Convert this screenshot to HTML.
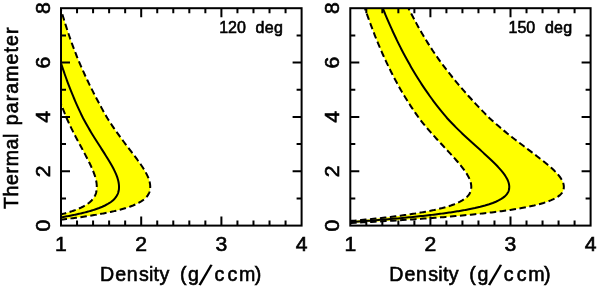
<!DOCTYPE html>
<html><head><meta charset="utf-8"><title>Thermal parameter vs Density</title>
<style>
html,body{margin:0;padding:0;background:#fff;}
svg{display:block}
text{font-family:"Liberation Sans",sans-serif;fill:#000;}
.t{font-size:19.6px;stroke:#000;stroke-width:0.6px;}
.s{font-size:16px;stroke:#000;stroke-width:0.6px;}
</style></head><body>
<svg width="600" height="288" viewBox="0 0 600 288">
<rect width="600" height="288" fill="#fff"/>
<clipPath id="c1"><rect x="61.0" y="8.2" width="240.60000000000002" height="217.4"/></clipPath>
<g clip-path="url(#c1)">
<path d="M-19.20,225.60 L-11.41,225.39 L-6.55,225.19 L-2.39,224.98 L1.35,224.77 L4.82,224.57 L8.08,224.36 L11.17,224.16 L14.13,223.95 L16.98,223.74 L19.73,223.54 L22.39,223.33 L24.97,223.12 L27.48,222.92 L29.92,222.71 L32.30,222.50 L34.63,222.30 L36.91,222.09 L39.14,221.88 L41.32,221.68 L43.46,221.47 L45.56,221.27 L47.61,221.06 L49.63,220.85 L51.61,220.65 L53.56,220.44 L55.47,220.23 L57.35,220.03 L59.19,219.82 L61.01,219.61 L62.79,219.41 L64.54,219.20 L66.27,219.00 L67.96,218.79 L69.63,218.58 L71.27,218.38 L72.88,218.17 L74.47,217.96 L76.03,217.76 L77.56,217.55 L79.07,217.34 L80.56,217.14 L82.02,216.93 L83.46,216.73 L84.87,216.52 L86.26,216.31 L87.63,216.11 L88.97,215.90 L90.29,215.69 L91.59,215.49 L92.87,215.28 L94.12,215.07 L95.36,214.87 L96.57,214.66 L97.77,214.45 L98.94,214.25 L100.09,214.04 L101.22,213.84 L102.34,213.63 L103.43,213.42 L104.50,213.22 L105.56,213.01 L106.60,212.80 L107.61,212.60 L108.61,212.39 L109.60,212.18 L110.56,211.98 L111.51,211.77 L112.44,211.57 L113.35,211.36 L114.24,211.15 L115.12,210.95 L115.98,210.74 L116.83,210.53 L117.66,210.33 L118.48,210.12 L119.27,209.91 L120.06,209.71 L120.83,209.50 L121.58,209.29 L125.89,208.03 L129.69,206.77 L133.04,205.50 L135.96,204.24 L138.52,202.97 L140.73,201.71 L142.63,200.44 L144.27,199.18 L145.65,197.91 L146.81,196.65 L147.77,195.38 L148.54,194.12 L149.15,192.85 L149.61,191.59 L149.93,190.32 L150.13,189.06 L150.20,187.79 L150.22,186.53 L150.16,185.26 L150.02,184.00 L149.80,182.74 L149.51,181.47 L149.15,180.21 L148.73,178.94 L148.25,177.68 L147.72,176.41 L147.13,175.15 L146.50,173.88 L145.83,172.62 L145.12,171.35 L144.37,170.09 L143.60,168.82 L142.80,167.56 L141.97,166.29 L141.12,165.03 L140.25,163.76 L139.36,162.50 L138.45,161.23 L137.54,159.97 L136.61,158.71 L135.67,157.44 L134.73,156.18 L133.77,154.91 L132.82,153.65 L131.85,152.38 L130.89,151.12 L129.92,149.85 L128.95,148.59 L127.99,147.32 L127.02,146.06 L126.06,144.79 L125.09,143.53 L124.14,142.26 L123.19,141.00 L122.24,139.73 L121.30,138.47 L120.36,137.20 L119.44,135.94 L118.52,134.67 L117.61,133.41 L116.70,132.15 L115.81,130.88 L114.93,129.62 L114.05,128.35 L113.19,127.09 L112.33,125.82 L111.49,124.56 L110.65,123.29 L109.83,122.03 L109.01,120.76 L108.21,119.50 L107.42,118.23 L106.68,116.97 L105.95,115.70 L105.22,114.44 L104.50,113.17 L103.79,111.91 L103.08,110.64 L102.38,109.38 L101.68,108.12 L100.99,106.85 L100.30,105.59 L99.61,104.32 L98.93,103.06 L98.26,101.79 L97.59,100.53 L96.92,99.26 L96.26,98.00 L95.60,96.73 L94.94,95.47 L94.29,94.20 L93.64,92.94 L93.00,91.67 L92.36,90.41 L91.72,89.14 L91.09,87.88 L90.46,86.61 L89.84,85.35 L89.22,84.08 L88.61,82.82 L88.00,81.56 L87.39,80.29 L86.79,79.03 L86.20,77.76 L85.61,76.50 L85.02,75.23 L84.44,73.97 L83.87,72.70 L83.29,71.44 L82.73,70.17 L82.16,68.91 L81.61,67.64 L81.05,66.38 L80.50,65.11 L79.96,63.85 L79.42,62.58 L78.89,61.32 L78.36,60.05 L77.84,58.79 L77.32,57.53 L76.81,56.26 L76.30,55.00 L75.80,53.73 L75.30,52.47 L74.81,51.20 L74.32,49.94 L73.84,48.67 L73.37,47.41 L72.90,46.14 L72.43,44.88 L71.97,43.61 L71.51,42.35 L71.06,41.08 L70.61,39.82 L70.17,38.55 L69.73,37.29 L69.29,36.02 L68.86,34.76 L68.43,33.49 L68.01,32.23 L67.59,30.97 L67.17,29.70 L66.76,28.44 L66.35,27.17 L65.95,25.91 L65.54,24.64 L65.15,23.38 L64.75,22.11 L64.36,20.85 L63.97,19.58 L63.58,18.32 L63.19,17.05 L62.81,15.79 L62.43,14.52 L62.05,13.26 L61.68,11.99 L61.31,10.73 L60.94,9.46 L60.57,8.20 L35.41,8.20 L35.66,9.46 L35.91,10.73 L36.17,11.99 L36.42,13.26 L36.68,14.52 L36.94,15.79 L37.20,17.05 L37.46,18.32 L37.72,19.58 L37.99,20.85 L38.25,22.11 L38.52,23.38 L38.79,24.64 L39.07,25.91 L39.34,27.17 L39.62,28.44 L39.89,29.70 L40.17,30.97 L40.46,32.23 L40.74,33.49 L41.03,34.76 L41.31,36.02 L41.60,37.29 L41.90,38.55 L42.19,39.82 L42.49,41.08 L42.79,42.35 L43.09,43.61 L43.40,44.88 L43.70,46.14 L44.01,47.41 L44.33,48.67 L44.64,49.94 L44.96,51.20 L45.28,52.47 L45.60,53.73 L45.93,55.00 L46.26,56.26 L46.59,57.53 L46.92,58.79 L47.26,60.05 L47.60,61.32 L47.94,62.58 L48.29,63.85 L48.64,65.11 L48.99,66.38 L49.34,67.64 L49.70,68.91 L50.06,70.17 L50.43,71.44 L50.79,72.70 L51.16,73.97 L51.54,75.23 L51.91,76.50 L52.29,77.76 L52.68,79.03 L53.06,80.29 L53.46,81.56 L53.85,82.82 L54.25,84.08 L54.65,85.35 L55.06,86.61 L55.47,87.88 L55.89,89.14 L56.31,90.41 L56.73,91.67 L57.16,92.94 L57.59,94.20 L58.03,95.47 L58.47,96.73 L58.92,98.00 L59.37,99.26 L59.82,100.53 L60.28,101.79 L60.74,103.06 L61.21,104.32 L61.68,105.59 L62.16,106.85 L62.64,108.12 L63.13,109.38 L63.62,110.64 L64.12,111.91 L64.62,113.17 L65.13,114.44 L65.65,115.70 L66.16,116.97 L66.69,118.23 L67.25,119.50 L67.82,120.76 L68.40,122.03 L68.99,123.29 L69.59,124.56 L70.19,125.82 L70.80,127.09 L71.41,128.35 L72.04,129.62 L72.67,130.88 L73.30,132.15 L73.94,133.41 L74.59,134.67 L75.25,135.94 L75.90,137.20 L76.57,138.47 L77.23,139.73 L77.91,141.00 L78.58,142.26 L79.26,143.53 L79.93,144.79 L80.61,146.06 L81.30,147.32 L81.98,148.59 L82.66,149.85 L83.34,151.12 L84.01,152.38 L84.69,153.65 L85.36,154.91 L86.02,156.18 L86.68,157.44 L87.34,158.71 L87.99,159.97 L88.62,161.23 L89.25,162.50 L89.87,163.76 L90.47,165.03 L91.07,166.29 L91.64,167.56 L92.20,168.82 L92.73,170.09 L93.25,171.35 L93.74,172.62 L94.21,173.88 L94.64,175.15 L95.05,176.41 L95.42,177.68 L95.75,178.94 L96.04,180.21 L96.29,181.47 L96.49,182.74 L96.64,184.00 L96.74,185.26 L96.78,186.53 L96.77,187.79 L96.72,189.06 L96.59,190.32 L96.37,191.59 L96.06,192.85 L95.64,194.12 L95.11,195.38 L94.45,196.65 L93.66,197.91 L92.72,199.18 L91.60,200.44 L90.29,201.71 L88.78,202.97 L87.03,204.24 L85.03,205.50 L82.74,206.77 L80.13,208.03 L77.19,209.29 L76.67,209.50 L76.14,209.71 L75.61,209.91 L75.06,210.12 L74.50,210.33 L73.93,210.53 L73.35,210.74 L72.76,210.95 L72.16,211.15 L71.55,211.36 L70.92,211.57 L70.29,211.77 L69.64,211.98 L68.98,212.18 L68.31,212.39 L67.62,212.60 L66.93,212.80 L66.22,213.01 L65.49,213.22 L64.76,213.42 L64.01,213.63 L63.25,213.84 L62.47,214.04 L61.68,214.25 L60.88,214.45 L60.06,214.66 L59.23,214.87 L58.39,215.07 L57.53,215.28 L56.65,215.49 L55.76,215.69 L54.86,215.90 L53.94,216.11 L53.00,216.31 L52.05,216.52 L51.08,216.73 L50.10,216.93 L49.10,217.14 L48.08,217.34 L47.05,217.55 L46.00,217.76 L44.93,217.96 L43.85,218.17 L42.74,218.38 L41.62,218.58 L40.48,218.79 L39.32,219.00 L38.14,219.20 L36.93,219.41 L35.71,219.61 L34.47,219.82 L33.21,220.03 L31.92,220.23 L30.61,220.44 L29.28,220.65 L27.93,220.85 L26.54,221.06 L25.14,221.27 L23.70,221.47 L22.24,221.68 L20.74,221.88 L19.22,222.09 L17.66,222.30 L16.06,222.50 L14.43,222.71 L12.76,222.92 L11.04,223.12 L9.27,223.33 L7.45,223.54 L5.57,223.74 L3.62,223.95 L1.60,224.16 L-0.52,224.36 L-2.76,224.57 L-5.13,224.77 L-7.69,224.98 L-10.54,225.19 L-13.87,225.39 L-19.20,225.60Z" fill="#ffff00" stroke="none"/>
<path d="M-19.20,225.60 L-12.84,225.39 L-8.88,225.19 L-5.49,224.98 L-2.43,224.77 L0.39,224.57 L3.05,224.36 L5.58,224.16 L7.99,223.95 L10.32,223.74 L12.56,223.54 L14.73,223.33 L16.83,223.12 L18.88,222.92 L20.87,222.71 L22.82,222.50 L24.72,222.30 L26.58,222.09 L28.39,221.88 L30.17,221.68 L31.92,221.47 L33.63,221.27 L35.31,221.06 L36.95,220.85 L38.57,220.65 L40.16,220.44 L41.72,220.23 L43.25,220.03 L44.75,219.82 L46.23,219.61 L47.69,219.41 L49.12,219.20 L50.53,219.00 L51.91,218.79 L53.27,218.58 L54.61,218.38 L55.92,218.17 L57.22,217.96 L58.49,217.76 L59.74,217.55 L60.97,217.34 L62.19,217.14 L63.38,216.93 L64.55,216.73 L65.70,216.52 L66.83,216.31 L67.95,216.11 L69.05,215.90 L70.12,215.69 L71.18,215.49 L72.23,215.28 L73.25,215.07 L74.26,214.87 L75.25,214.66 L76.22,214.45 L77.18,214.25 L78.12,214.04 L79.04,213.84 L79.95,213.63 L80.84,213.42 L81.72,213.22 L82.58,213.01 L83.43,212.80 L84.26,212.60 L85.07,212.39 L85.87,212.18 L86.66,211.98 L87.43,211.77 L88.19,211.57 L88.93,211.36 L89.66,211.15 L90.38,210.95 L91.08,210.74 L91.77,210.53 L92.45,210.33 L93.12,210.12 L93.77,209.91 L94.41,209.71 L95.04,209.50 L95.65,209.29 L99.16,208.03 L102.27,206.77 L104.99,205.50 L107.38,204.24 L109.47,202.97 L111.27,201.71 L112.82,200.44 L114.15,199.18 L115.28,197.91 L116.23,196.65 L117.01,195.38 L117.64,194.12 L118.14,192.85 L118.51,191.59 L118.77,190.32 L118.93,189.06 L118.99,187.79 L119.00,186.53 L118.95,185.26 L118.83,184.00 L118.65,182.74 L118.41,181.47 L118.12,180.21 L117.77,178.94 L117.37,177.68 L116.93,176.41 L116.45,175.15 L115.93,173.88 L115.38,172.62 L114.79,171.35 L114.18,170.09 L113.54,168.82 L112.87,167.56 L112.19,166.29 L111.48,165.03 L110.76,163.76 L110.03,162.50 L109.28,161.23 L108.52,159.97 L107.75,158.71 L106.97,157.44 L106.18,156.18 L105.39,154.91 L104.59,153.65 L103.78,152.38 L102.98,151.12 L102.17,149.85 L101.36,148.59 L100.55,147.32 L99.74,146.06 L98.93,144.79 L98.12,143.53 L97.31,142.26 L96.51,141.00 L95.71,139.73 L94.91,138.47 L94.12,137.20 L93.34,135.94 L92.56,134.67 L91.79,133.41 L91.02,132.15 L90.26,130.88 L89.51,129.62 L88.77,128.35 L88.04,127.09 L87.31,125.82 L86.59,124.56 L85.89,123.29 L85.19,122.03 L84.50,120.76 L83.81,119.50 L83.14,118.23 L82.52,116.97 L81.90,115.70 L81.29,114.44 L80.68,113.17 L80.08,111.91 L79.49,110.64 L78.90,109.38 L78.32,108.12 L77.75,106.85 L77.18,105.59 L76.61,104.32 L76.06,103.06 L75.51,101.79 L74.96,100.53 L74.42,99.26 L73.88,98.00 L73.35,96.73 L72.83,95.47 L72.30,94.20 L71.79,92.94 L71.28,91.67 L70.77,90.41 L70.27,89.14 L69.78,87.88 L69.29,86.61 L68.80,85.35 L68.32,84.08 L67.84,82.82 L67.37,81.56 L66.91,80.29 L66.45,79.03 L65.99,77.76 L65.54,76.50 L65.09,75.23 L64.64,73.97 L64.20,72.70 L63.77,71.44 L63.33,70.17 L62.90,68.91 L62.48,67.64 L62.05,66.38 L61.63,65.11 L61.22,63.85 L60.80,62.58 L60.40,61.32 L59.99,60.05 L59.59,58.79 L59.19,57.53 L58.80,56.26 L58.40,55.00 L58.02,53.73 L57.63,52.47 L57.25,51.20 L56.87,49.94 L56.49,48.67 L56.12,47.41 L55.75,46.14 L55.39,44.88 L55.02,43.61 L54.66,42.35 L54.31,41.08 L53.95,39.82 L53.60,38.55 L53.25,37.29 L52.91,36.02 L52.56,34.76 L52.22,33.49 L51.88,32.23 L51.55,30.97 L51.21,29.70 L50.88,28.44 L50.55,27.17 L50.23,25.91 L49.90,24.64 L49.58,23.38 L49.26,22.11 L48.94,20.85 L48.63,19.58 L48.31,18.32 L48.00,17.05 L47.69,15.79 L47.38,14.52 L47.08,13.26 L46.77,11.99 L46.47,10.73 L46.17,9.46 L45.87,8.20" fill="none" stroke="#000" stroke-width="2"/>
<path d="M-19.20,225.60 L-13.87,225.39 L-10.54,225.19 L-7.69,224.98 L-5.13,224.77 L-2.76,224.57 L-0.52,224.36 L1.60,224.16 L3.62,223.95 L5.57,223.74 L7.45,223.54 L9.27,223.33 L11.04,223.12 L12.76,222.92 L14.43,222.71 L16.06,222.50 L17.66,222.30 L19.22,222.09 L20.74,221.88 L22.24,221.68 L23.70,221.47 L25.14,221.27 L26.54,221.06 L27.93,220.85 L29.28,220.65 L30.61,220.44 L31.92,220.23 L33.21,220.03 L34.47,219.82 L35.71,219.61 L36.93,219.41 L38.14,219.20 L39.32,219.00 L40.48,218.79 L41.62,218.58 L42.74,218.38 L43.85,218.17 L44.93,217.96 L46.00,217.76 L47.05,217.55 L48.08,217.34 L49.10,217.14 L50.10,216.93 L51.08,216.73 L52.05,216.52 L53.00,216.31 L53.94,216.11 L54.86,215.90 L55.76,215.69 L56.65,215.49 L57.53,215.28 L58.39,215.07 L59.23,214.87 L60.06,214.66 L60.88,214.45 L61.68,214.25 L62.47,214.04 L63.25,213.84 L64.01,213.63 L64.76,213.42 L65.49,213.22 L66.22,213.01 L66.93,212.80 L67.62,212.60 L68.31,212.39 L68.98,212.18 L69.64,211.98 L70.29,211.77 L70.92,211.57 L71.55,211.36 L72.16,211.15 L72.76,210.95 L73.35,210.74 L73.93,210.53 L74.50,210.33 L75.06,210.12 L75.61,209.91 L76.14,209.71 L76.67,209.50 L77.19,209.29 L80.13,208.03 L82.74,206.77 L85.03,205.50 L87.03,204.24 L88.78,202.97 L90.29,201.71 L91.60,200.44 L92.72,199.18 L93.66,197.91 L94.45,196.65 L95.11,195.38 L95.64,194.12 L96.06,192.85 L96.37,191.59 L96.59,190.32 L96.72,189.06 L96.77,187.79 L96.78,186.53 L96.74,185.26 L96.64,184.00 L96.49,182.74 L96.29,181.47 L96.04,180.21 L95.75,178.94 L95.42,177.68 L95.05,176.41 L94.64,175.15 L94.21,173.88 L93.74,172.62 L93.25,171.35 L92.73,170.09 L92.20,168.82 L91.64,167.56 L91.07,166.29 L90.47,165.03 L89.87,163.76 L89.25,162.50 L88.62,161.23 L87.99,159.97 L87.34,158.71 L86.68,157.44 L86.02,156.18 L85.36,154.91 L84.69,153.65 L84.01,152.38 L83.34,151.12 L82.66,149.85 L81.98,148.59 L81.30,147.32 L80.61,146.06 L79.93,144.79 L79.26,143.53 L78.58,142.26 L77.91,141.00 L77.23,139.73 L76.57,138.47 L75.90,137.20 L75.25,135.94 L74.59,134.67 L73.94,133.41 L73.30,132.15 L72.67,130.88 L72.04,129.62 L71.41,128.35 L70.80,127.09 L70.19,125.82 L69.59,124.56 L68.99,123.29 L68.40,122.03 L67.82,120.76 L67.25,119.50 L66.69,118.23 L66.16,116.97 L65.65,115.70 L65.13,114.44 L64.62,113.17 L64.12,111.91 L63.62,110.64 L63.13,109.38 L62.64,108.12 L62.16,106.85 L61.68,105.59 L61.21,104.32 L60.74,103.06 L60.28,101.79 L59.82,100.53 L59.37,99.26 L58.92,98.00 L58.47,96.73 L58.03,95.47 L57.59,94.20 L57.16,92.94 L56.73,91.67 L56.31,90.41 L55.89,89.14 L55.47,87.88 L55.06,86.61 L54.65,85.35 L54.25,84.08 L53.85,82.82 L53.46,81.56 L53.06,80.29 L52.68,79.03 L52.29,77.76 L51.91,76.50 L51.54,75.23 L51.16,73.97 L50.79,72.70 L50.43,71.44 L50.06,70.17 L49.70,68.91 L49.34,67.64 L48.99,66.38 L48.64,65.11 L48.29,63.85 L47.94,62.58 L47.60,61.32 L47.26,60.05 L46.92,58.79 L46.59,57.53 L46.26,56.26 L45.93,55.00 L45.60,53.73 L45.28,52.47 L44.96,51.20 L44.64,49.94 L44.33,48.67 L44.01,47.41 L43.70,46.14 L43.40,44.88 L43.09,43.61 L42.79,42.35 L42.49,41.08 L42.19,39.82 L41.90,38.55 L41.60,37.29 L41.31,36.02 L41.03,34.76 L40.74,33.49 L40.46,32.23 L40.17,30.97 L39.89,29.70 L39.62,28.44 L39.34,27.17 L39.07,25.91 L38.79,24.64 L38.52,23.38 L38.25,22.11 L37.99,20.85 L37.72,19.58 L37.46,18.32 L37.20,17.05 L36.94,15.79 L36.68,14.52 L36.42,13.26 L36.17,11.99 L35.91,10.73 L35.66,9.46 L35.41,8.20" fill="none" stroke="#000" stroke-width="2" stroke-dasharray="6.5 3.5"/>
<path d="M-19.20,225.60 L-11.41,225.39 L-6.55,225.19 L-2.39,224.98 L1.35,224.77 L4.82,224.57 L8.08,224.36 L11.17,224.16 L14.13,223.95 L16.98,223.74 L19.73,223.54 L22.39,223.33 L24.97,223.12 L27.48,222.92 L29.92,222.71 L32.30,222.50 L34.63,222.30 L36.91,222.09 L39.14,221.88 L41.32,221.68 L43.46,221.47 L45.56,221.27 L47.61,221.06 L49.63,220.85 L51.61,220.65 L53.56,220.44 L55.47,220.23 L57.35,220.03 L59.19,219.82 L61.01,219.61 L62.79,219.41 L64.54,219.20 L66.27,219.00 L67.96,218.79 L69.63,218.58 L71.27,218.38 L72.88,218.17 L74.47,217.96 L76.03,217.76 L77.56,217.55 L79.07,217.34 L80.56,217.14 L82.02,216.93 L83.46,216.73 L84.87,216.52 L86.26,216.31 L87.63,216.11 L88.97,215.90 L90.29,215.69 L91.59,215.49 L92.87,215.28 L94.12,215.07 L95.36,214.87 L96.57,214.66 L97.77,214.45 L98.94,214.25 L100.09,214.04 L101.22,213.84 L102.34,213.63 L103.43,213.42 L104.50,213.22 L105.56,213.01 L106.60,212.80 L107.61,212.60 L108.61,212.39 L109.60,212.18 L110.56,211.98 L111.51,211.77 L112.44,211.57 L113.35,211.36 L114.24,211.15 L115.12,210.95 L115.98,210.74 L116.83,210.53 L117.66,210.33 L118.48,210.12 L119.27,209.91 L120.06,209.71 L120.83,209.50 L121.58,209.29 L125.89,208.03 L129.69,206.77 L133.04,205.50 L135.96,204.24 L138.52,202.97 L140.73,201.71 L142.63,200.44 L144.27,199.18 L145.65,197.91 L146.81,196.65 L147.77,195.38 L148.54,194.12 L149.15,192.85 L149.61,191.59 L149.93,190.32 L150.13,189.06 L150.20,187.79 L150.22,186.53 L150.16,185.26 L150.02,184.00 L149.80,182.74 L149.51,181.47 L149.15,180.21 L148.73,178.94 L148.25,177.68 L147.72,176.41 L147.13,175.15 L146.50,173.88 L145.83,172.62 L145.12,171.35 L144.37,170.09 L143.60,168.82 L142.80,167.56 L141.97,166.29 L141.12,165.03 L140.25,163.76 L139.36,162.50 L138.45,161.23 L137.54,159.97 L136.61,158.71 L135.67,157.44 L134.73,156.18 L133.77,154.91 L132.82,153.65 L131.85,152.38 L130.89,151.12 L129.92,149.85 L128.95,148.59 L127.99,147.32 L127.02,146.06 L126.06,144.79 L125.09,143.53 L124.14,142.26 L123.19,141.00 L122.24,139.73 L121.30,138.47 L120.36,137.20 L119.44,135.94 L118.52,134.67 L117.61,133.41 L116.70,132.15 L115.81,130.88 L114.93,129.62 L114.05,128.35 L113.19,127.09 L112.33,125.82 L111.49,124.56 L110.65,123.29 L109.83,122.03 L109.01,120.76 L108.21,119.50 L107.42,118.23 L106.68,116.97 L105.95,115.70 L105.22,114.44 L104.50,113.17 L103.79,111.91 L103.08,110.64 L102.38,109.38 L101.68,108.12 L100.99,106.85 L100.30,105.59 L99.61,104.32 L98.93,103.06 L98.26,101.79 L97.59,100.53 L96.92,99.26 L96.26,98.00 L95.60,96.73 L94.94,95.47 L94.29,94.20 L93.64,92.94 L93.00,91.67 L92.36,90.41 L91.72,89.14 L91.09,87.88 L90.46,86.61 L89.84,85.35 L89.22,84.08 L88.61,82.82 L88.00,81.56 L87.39,80.29 L86.79,79.03 L86.20,77.76 L85.61,76.50 L85.02,75.23 L84.44,73.97 L83.87,72.70 L83.29,71.44 L82.73,70.17 L82.16,68.91 L81.61,67.64 L81.05,66.38 L80.50,65.11 L79.96,63.85 L79.42,62.58 L78.89,61.32 L78.36,60.05 L77.84,58.79 L77.32,57.53 L76.81,56.26 L76.30,55.00 L75.80,53.73 L75.30,52.47 L74.81,51.20 L74.32,49.94 L73.84,48.67 L73.37,47.41 L72.90,46.14 L72.43,44.88 L71.97,43.61 L71.51,42.35 L71.06,41.08 L70.61,39.82 L70.17,38.55 L69.73,37.29 L69.29,36.02 L68.86,34.76 L68.43,33.49 L68.01,32.23 L67.59,30.97 L67.17,29.70 L66.76,28.44 L66.35,27.17 L65.95,25.91 L65.54,24.64 L65.15,23.38 L64.75,22.11 L64.36,20.85 L63.97,19.58 L63.58,18.32 L63.19,17.05 L62.81,15.79 L62.43,14.52 L62.05,13.26 L61.68,11.99 L61.31,10.73 L60.94,9.46 L60.57,8.20" fill="none" stroke="#000" stroke-width="2" stroke-dasharray="6.5 3.5"/>
</g>
<rect x="61.0" y="8.2" width="240.60000000000002" height="217.4" fill="none" stroke="#000" stroke-width="2"/>
<path d="M77.04,225.6 v-5 M77.04,8.2 v5 M93.08,225.6 v-5 M93.08,8.2 v5 M109.12,225.6 v-5 M109.12,8.2 v5 M125.16,225.6 v-5 M125.16,8.2 v5 M141.20,225.6 v-9 M141.20,8.2 v9 M157.24,225.6 v-5 M157.24,8.2 v5 M173.28,225.6 v-5 M173.28,8.2 v5 M189.32,225.6 v-5 M189.32,8.2 v5 M205.36,225.6 v-5 M205.36,8.2 v5 M221.40,225.6 v-9 M221.40,8.2 v9 M237.44,225.6 v-5 M237.44,8.2 v5 M253.48,225.6 v-5 M253.48,8.2 v5 M269.52,225.6 v-5 M269.52,8.2 v5 M285.56,225.6 v-5 M285.56,8.2 v5 M61.0,198.42 h5 M301.6,198.42 h-5 M61.0,171.25 h9 M301.6,171.25 h-9 M61.0,144.07 h5 M301.6,144.07 h-5 M61.0,116.90 h9 M301.6,116.90 h-9 M61.0,89.72 h5 M301.6,89.72 h-5 M61.0,62.55 h9 M301.6,62.55 h-9 M61.0,35.38 h5 M301.6,35.38 h-5" fill="none" stroke="#000" stroke-width="2"/>
<text transform="translate(61.00,250.8) scale(1.08,1)" text-anchor="middle" class="t">1</text>
<text transform="translate(141.20,250.8) scale(1.08,1)" text-anchor="middle" class="t">2</text>
<text transform="translate(221.40,250.8) scale(1.08,1)" text-anchor="middle" class="t">3</text>
<text transform="translate(301.60,250.8) scale(1.08,1)" text-anchor="middle" class="t">4</text>
<text transform="translate(50.00,225.60) rotate(-90) scale(1.08,1)" text-anchor="middle" class="t">0</text>
<text transform="translate(50.00,171.25) rotate(-90) scale(1.08,1)" text-anchor="middle" class="t">2</text>
<text transform="translate(50.00,116.90) rotate(-90) scale(1.08,1)" text-anchor="middle" class="t">4</text>
<text transform="translate(50.00,62.55) rotate(-90) scale(1.08,1)" text-anchor="middle" class="t">6</text>
<text transform="translate(50.00,8.20) rotate(-90) scale(1.08,1)" text-anchor="middle" class="t">8</text>
<text x="100.0 115.2 126.8 139.0 149.0 153.6 159.5 170.0 180.0 188.1" y="280.8" class="t">Density (g<tspan x="198.6" y="284.4" rotate="15" style="font-size:31px;stroke-width:0">/</tspan><tspan x="214.5 227.5 238.9 254.8" y="280.8" rotate="0">ccm)</tspan></text>
<text x="219.20" y="32.7" class="s">120 <tspan x="255.60" style="letter-spacing:0.25px">deg</tspan></text>
<clipPath id="c2"><rect x="350.3" y="8.2" width="240.3" height="217.4"/></clipPath>
<g clip-path="url(#c2)">
<path d="M270.20,225.60 L283.70,225.39 L292.13,225.19 L299.33,224.98 L305.82,224.77 L311.83,224.57 L317.48,224.36 L322.84,224.16 L327.97,223.95 L332.91,223.74 L337.67,223.54 L342.27,223.33 L346.75,223.12 L351.10,222.92 L355.33,222.71 L359.46,222.50 L363.50,222.30 L367.45,222.09 L371.31,221.88 L375.09,221.68 L378.80,221.47 L382.43,221.27 L386.00,221.06 L389.49,220.85 L392.93,220.65 L396.30,220.44 L399.61,220.23 L402.87,220.03 L406.07,219.82 L409.21,219.61 L412.30,219.41 L415.34,219.20 L418.33,219.00 L421.27,218.79 L424.16,218.58 L427.00,218.38 L429.79,218.17 L432.54,217.96 L435.25,217.76 L437.91,217.55 L440.53,217.34 L443.10,217.14 L445.63,216.93 L448.12,216.73 L450.57,216.52 L452.98,216.31 L455.35,216.11 L457.67,215.90 L459.96,215.69 L462.22,215.49 L464.43,215.28 L466.61,215.07 L468.75,214.87 L470.85,214.66 L472.92,214.45 L474.95,214.25 L476.95,214.04 L478.91,213.84 L480.84,213.63 L482.74,213.42 L484.60,213.22 L486.43,213.01 L488.22,212.80 L489.99,212.60 L491.72,212.39 L493.42,212.18 L495.09,211.98 L496.73,211.77 L498.34,211.57 L499.93,211.36 L501.48,211.15 L503.00,210.95 L504.50,210.74 L505.96,210.53 L507.40,210.33 L508.81,210.12 L510.20,209.91 L511.56,209.71 L512.89,209.50 L514.20,209.29 L521.66,208.03 L528.25,206.77 L534.05,205.50 L539.12,204.24 L543.55,202.97 L547.38,201.71 L550.69,200.44 L553.51,199.18 L555.91,197.91 L557.92,196.65 L559.58,195.38 L560.92,194.12 L561.98,192.85 L562.78,191.59 L563.34,190.32 L563.67,189.06 L563.81,187.79 L563.84,186.53 L563.72,185.26 L563.48,184.00 L563.10,182.74 L562.60,181.47 L561.98,180.21 L561.25,178.94 L560.42,177.68 L559.50,176.41 L558.48,175.15 L557.39,173.88 L556.22,172.62 L554.99,171.35 L553.70,170.09 L552.36,168.82 L550.96,167.56 L549.53,166.29 L548.05,165.03 L546.54,163.76 L545.00,162.50 L543.44,161.23 L541.85,159.97 L540.24,158.71 L538.62,157.44 L536.98,156.18 L535.33,154.91 L533.67,153.65 L532.00,152.38 L530.33,151.12 L528.65,149.85 L526.97,148.59 L525.30,147.32 L523.62,146.06 L521.95,144.79 L520.29,143.53 L518.63,142.26 L516.98,141.00 L515.33,139.73 L513.70,138.47 L512.08,137.20 L510.48,135.94 L508.88,134.67 L507.31,133.41 L505.74,132.15 L504.19,130.88 L502.66,129.62 L501.15,128.35 L499.65,127.09 L498.17,125.82 L496.70,124.56 L495.26,123.29 L493.83,122.03 L492.42,120.76 L491.02,119.50 L489.65,118.23 L488.37,116.97 L487.10,115.70 L485.84,114.44 L484.59,113.17 L483.36,111.91 L482.13,110.64 L480.91,109.38 L479.70,108.12 L478.50,106.85 L477.31,105.59 L476.12,104.32 L474.94,103.06 L473.77,101.79 L472.61,100.53 L471.46,99.26 L470.31,98.00 L469.16,96.73 L468.03,95.47 L466.90,94.20 L465.78,92.94 L464.66,91.67 L463.55,90.41 L462.45,89.14 L461.35,87.88 L460.27,86.61 L459.19,85.35 L458.11,84.08 L457.05,82.82 L455.99,81.56 L454.94,80.29 L453.90,79.03 L452.87,77.76 L451.85,76.50 L450.84,75.23 L449.83,73.97 L448.83,72.70 L447.84,71.44 L446.86,70.17 L445.88,68.91 L444.91,67.64 L443.95,66.38 L443.00,65.11 L442.06,63.85 L441.13,62.58 L440.20,61.32 L439.29,60.05 L438.38,58.79 L437.49,57.53 L436.60,56.26 L435.72,55.00 L434.85,53.73 L433.99,52.47 L433.14,51.20 L432.29,49.94 L431.46,48.67 L430.63,47.41 L429.82,46.14 L429.01,44.88 L428.21,43.61 L427.42,42.35 L426.63,41.08 L425.85,39.82 L425.09,38.55 L424.32,37.29 L423.57,36.02 L422.82,34.76 L422.08,33.49 L421.35,32.23 L420.62,30.97 L419.90,29.70 L419.19,28.44 L418.48,27.17 L417.77,25.91 L417.08,24.64 L416.38,23.38 L415.70,22.11 L415.02,20.85 L414.34,19.58 L413.67,18.32 L413.00,17.05 L412.34,15.79 L411.68,14.52 L411.03,13.26 L410.38,11.99 L409.73,10.73 L409.09,9.46 L408.46,8.20 L364.88,8.20 L365.31,9.46 L365.75,10.73 L366.19,11.99 L366.63,13.26 L367.08,14.52 L367.52,15.79 L367.98,17.05 L368.43,18.32 L368.89,19.58 L369.34,20.85 L369.81,22.11 L370.27,23.38 L370.74,24.64 L371.21,25.91 L371.69,27.17 L372.17,28.44 L372.65,29.70 L373.13,30.97 L373.62,32.23 L374.11,33.49 L374.61,34.76 L375.11,36.02 L375.61,37.29 L376.12,38.55 L376.63,39.82 L377.15,41.08 L377.67,42.35 L378.19,43.61 L378.72,44.88 L379.25,46.14 L379.79,47.41 L380.33,48.67 L380.88,49.94 L381.43,51.20 L381.98,52.47 L382.54,53.73 L383.11,55.00 L383.68,56.26 L384.25,57.53 L384.83,58.79 L385.42,60.05 L386.01,61.32 L386.60,62.58 L387.20,63.85 L387.81,65.11 L388.42,66.38 L389.03,67.64 L389.65,68.91 L390.28,70.17 L390.91,71.44 L391.55,72.70 L392.19,73.97 L392.83,75.23 L393.49,76.50 L394.14,77.76 L394.81,79.03 L395.48,80.29 L396.16,81.56 L396.85,82.82 L397.54,84.08 L398.24,85.35 L398.94,86.61 L399.66,87.88 L400.38,89.14 L401.11,90.41 L401.84,91.67 L402.58,92.94 L403.33,94.20 L404.09,95.47 L404.86,96.73 L405.63,98.00 L406.41,99.26 L407.20,100.53 L407.99,101.79 L408.79,103.06 L409.61,104.32 L410.42,105.59 L411.25,106.85 L412.09,108.12 L412.93,109.38 L413.79,110.64 L414.65,111.91 L415.52,113.17 L416.40,114.44 L417.29,115.70 L418.19,116.97 L419.10,118.23 L420.08,119.50 L421.07,120.76 L422.08,122.03 L423.09,123.29 L424.12,124.56 L425.17,125.82 L426.22,127.09 L427.29,128.35 L428.37,129.62 L429.46,130.88 L430.57,132.15 L431.68,133.41 L432.80,134.67 L433.94,135.94 L435.08,137.20 L436.23,138.47 L437.38,139.73 L438.55,141.00 L439.72,142.26 L440.89,143.53 L442.07,144.79 L443.24,146.06 L444.43,147.32 L445.61,148.59 L446.79,149.85 L447.96,151.12 L449.14,152.38 L450.30,153.65 L451.47,154.91 L452.62,156.18 L453.77,157.44 L454.90,158.71 L456.02,159.97 L457.13,161.23 L458.22,162.50 L459.29,163.76 L460.34,165.03 L461.36,166.29 L462.36,167.56 L463.32,168.82 L464.26,170.09 L465.15,171.35 L466.00,172.62 L466.81,173.88 L467.57,175.15 L468.27,176.41 L468.91,177.68 L469.48,178.94 L469.99,180.21 L470.42,181.47 L470.76,182.74 L471.03,184.00 L471.20,185.26 L471.28,186.53 L471.26,187.79 L471.17,189.06 L470.94,190.32 L470.56,191.59 L470.02,192.85 L469.29,194.12 L468.37,195.38 L467.24,196.65 L465.86,197.91 L464.22,199.18 L462.29,200.44 L460.03,201.71 L457.40,202.97 L454.37,204.24 L450.90,205.50 L446.93,206.77 L442.41,208.03 L437.30,209.29 L436.41,209.50 L435.49,209.71 L434.56,209.91 L433.61,210.12 L432.65,210.33 L431.66,210.53 L430.66,210.74 L429.63,210.95 L428.59,211.15 L427.53,211.36 L426.45,211.57 L425.34,211.77 L424.22,211.98 L423.07,212.18 L421.91,212.39 L420.72,212.60 L419.51,212.80 L418.28,213.01 L417.03,213.22 L415.76,213.42 L414.46,213.63 L413.14,213.84 L411.79,214.04 L410.43,214.25 L409.03,214.45 L407.62,214.66 L406.18,214.87 L404.71,215.07 L403.22,215.28 L401.70,215.49 L400.16,215.69 L398.59,215.90 L397.00,216.11 L395.38,216.31 L393.73,216.52 L392.05,216.73 L390.34,216.93 L388.61,217.14 L386.85,217.34 L385.06,217.55 L383.23,217.76 L381.38,217.96 L379.50,218.17 L377.58,218.38 L375.64,218.58 L373.66,218.79 L371.65,219.00 L369.60,219.20 L367.52,219.41 L365.40,219.61 L363.25,219.82 L361.06,220.03 L358.83,220.23 L356.56,220.44 L354.25,220.65 L351.90,220.85 L349.50,221.06 L347.06,221.27 L344.57,221.47 L342.04,221.68 L339.45,221.88 L336.80,222.09 L334.10,222.30 L331.33,222.50 L328.50,222.71 L325.60,222.92 L322.62,223.12 L319.56,223.33 L316.40,223.54 L313.14,223.74 L309.77,223.95 L306.25,224.16 L302.58,224.36 L298.71,224.57 L294.59,224.77 L290.15,224.98 L285.22,225.19 L279.45,225.39 L270.20,225.60Z" fill="#ffff00" stroke="none"/>
<path d="M270.20,225.60 L281.19,225.39 L288.06,225.19 L293.91,224.98 L299.20,224.77 L304.09,224.57 L308.69,224.36 L313.06,224.16 L317.24,223.95 L321.25,223.74 L325.13,223.54 L328.88,223.33 L332.52,223.12 L336.06,222.92 L339.51,222.71 L342.88,222.50 L346.16,222.30 L349.38,222.09 L352.52,221.88 L355.60,221.68 L358.62,221.47 L361.58,221.27 L364.48,221.06 L367.33,220.85 L370.12,220.65 L372.87,220.44 L375.57,220.23 L378.22,220.03 L380.82,219.82 L383.38,219.61 L385.90,219.41 L388.37,219.20 L390.80,219.00 L393.20,218.79 L395.55,218.58 L397.86,218.38 L400.14,218.17 L402.38,217.96 L404.58,217.76 L406.75,217.55 L408.88,217.34 L410.97,217.14 L413.03,216.93 L415.06,216.73 L417.05,216.52 L419.01,216.31 L420.94,216.11 L422.84,215.90 L424.70,215.69 L426.54,215.49 L428.34,215.28 L430.11,215.07 L431.85,214.87 L433.57,214.66 L435.25,214.45 L436.91,214.25 L438.53,214.04 L440.13,213.84 L441.70,213.63 L443.24,213.42 L444.76,213.22 L446.25,213.01 L447.71,212.80 L449.15,212.60 L450.56,212.39 L451.94,212.18 L453.30,211.98 L454.64,211.77 L455.95,211.57 L457.24,211.36 L458.50,211.15 L459.74,210.95 L460.96,210.74 L462.15,210.53 L463.33,210.33 L464.47,210.12 L465.60,209.91 L466.71,209.71 L467.79,209.50 L468.86,209.29 L474.93,208.03 L480.30,206.77 L485.02,205.50 L489.15,204.24 L492.75,202.97 L495.87,201.71 L498.56,200.44 L500.86,199.18 L502.81,197.91 L504.45,196.65 L505.80,195.38 L506.89,194.12 L507.75,192.85 L508.40,191.59 L508.85,190.32 L509.12,189.06 L509.23,187.79 L509.25,186.53 L509.16,185.26 L508.95,184.00 L508.64,182.74 L508.23,181.47 L507.72,180.21 L507.12,178.94 L506.43,177.68 L505.67,176.41 L504.84,175.15 L503.94,173.88 L502.98,172.62 L501.97,171.35 L500.90,170.09 L499.80,168.82 L498.65,167.56 L497.46,166.29 L496.24,165.03 L495.00,163.76 L493.73,162.50 L492.43,161.23 L491.12,159.97 L489.78,158.71 L488.43,157.44 L487.07,156.18 L485.70,154.91 L484.32,153.65 L482.93,152.38 L481.53,151.12 L480.13,149.85 L478.73,148.59 L477.33,147.32 L475.92,146.06 L474.52,144.79 L473.12,143.53 L471.73,142.26 L470.34,141.00 L468.96,139.73 L467.58,138.47 L466.21,137.20 L464.86,135.94 L463.51,134.67 L462.17,133.41 L460.85,132.15 L459.54,130.88 L458.24,129.62 L456.96,128.35 L455.69,127.09 L454.43,125.82 L453.19,124.56 L451.97,123.29 L450.76,122.03 L449.56,120.76 L448.38,119.50 L447.22,118.23 L446.14,116.97 L445.07,115.70 L444.01,114.44 L442.97,113.17 L441.93,111.91 L440.90,110.64 L439.89,109.38 L438.88,108.12 L437.89,106.85 L436.91,105.59 L435.93,104.32 L434.97,103.06 L434.01,101.79 L433.07,100.53 L432.13,99.26 L431.20,98.00 L430.29,96.73 L429.38,95.47 L428.48,94.20 L427.59,92.94 L426.70,91.67 L425.83,90.41 L424.96,89.14 L424.11,87.88 L423.26,86.61 L422.42,85.35 L421.59,84.08 L420.76,82.82 L419.95,81.56 L419.14,80.29 L418.34,79.03 L417.55,77.76 L416.77,76.50 L415.99,75.23 L415.22,73.97 L414.46,72.70 L413.71,71.44 L412.96,70.17 L412.21,68.91 L411.47,67.64 L410.74,66.38 L410.02,65.11 L409.30,63.85 L408.58,62.58 L407.88,61.32 L407.18,60.05 L406.48,58.79 L405.79,57.53 L405.11,56.26 L404.43,55.00 L403.76,53.73 L403.09,52.47 L402.43,51.20 L401.78,49.94 L401.13,48.67 L400.49,47.41 L399.85,46.14 L399.21,44.88 L398.59,43.61 L397.96,42.35 L397.35,41.08 L396.73,39.82 L396.12,38.55 L395.52,37.29 L394.92,36.02 L394.33,34.76 L393.74,33.49 L393.15,32.23 L392.57,30.97 L392.00,29.70 L391.42,28.44 L390.85,27.17 L390.29,25.91 L389.73,24.64 L389.17,23.38 L388.62,22.11 L388.07,20.85 L387.52,19.58 L386.98,18.32 L386.44,17.05 L385.90,15.79 L385.37,14.52 L384.84,13.26 L384.32,11.99 L383.79,10.73 L383.27,9.46 L382.76,8.20" fill="none" stroke="#000" stroke-width="2"/>
<path d="M270.20,225.60 L279.45,225.39 L285.22,225.19 L290.15,224.98 L294.59,224.77 L298.71,224.57 L302.58,224.36 L306.25,224.16 L309.77,223.95 L313.14,223.74 L316.40,223.54 L319.56,223.33 L322.62,223.12 L325.60,222.92 L328.50,222.71 L331.33,222.50 L334.10,222.30 L336.80,222.09 L339.45,221.88 L342.04,221.68 L344.57,221.47 L347.06,221.27 L349.50,221.06 L351.90,220.85 L354.25,220.65 L356.56,220.44 L358.83,220.23 L361.06,220.03 L363.25,219.82 L365.40,219.61 L367.52,219.41 L369.60,219.20 L371.65,219.00 L373.66,218.79 L375.64,218.58 L377.58,218.38 L379.50,218.17 L381.38,217.96 L383.23,217.76 L385.06,217.55 L386.85,217.34 L388.61,217.14 L390.34,216.93 L392.05,216.73 L393.73,216.52 L395.38,216.31 L397.00,216.11 L398.59,215.90 L400.16,215.69 L401.70,215.49 L403.22,215.28 L404.71,215.07 L406.18,214.87 L407.62,214.66 L409.03,214.45 L410.43,214.25 L411.79,214.04 L413.14,213.84 L414.46,213.63 L415.76,213.42 L417.03,213.22 L418.28,213.01 L419.51,212.80 L420.72,212.60 L421.91,212.39 L423.07,212.18 L424.22,211.98 L425.34,211.77 L426.45,211.57 L427.53,211.36 L428.59,211.15 L429.63,210.95 L430.66,210.74 L431.66,210.53 L432.65,210.33 L433.61,210.12 L434.56,209.91 L435.49,209.71 L436.41,209.50 L437.30,209.29 L442.41,208.03 L446.93,206.77 L450.90,205.50 L454.37,204.24 L457.40,202.97 L460.03,201.71 L462.29,200.44 L464.22,199.18 L465.86,197.91 L467.24,196.65 L468.37,195.38 L469.29,194.12 L470.02,192.85 L470.56,191.59 L470.94,190.32 L471.17,189.06 L471.26,187.79 L471.28,186.53 L471.20,185.26 L471.03,184.00 L470.76,182.74 L470.42,181.47 L469.99,180.21 L469.48,178.94 L468.91,177.68 L468.27,176.41 L467.57,175.15 L466.81,173.88 L466.00,172.62 L465.15,171.35 L464.26,170.09 L463.32,168.82 L462.36,167.56 L461.36,166.29 L460.34,165.03 L459.29,163.76 L458.22,162.50 L457.13,161.23 L456.02,159.97 L454.90,158.71 L453.77,157.44 L452.62,156.18 L451.47,154.91 L450.30,153.65 L449.14,152.38 L447.96,151.12 L446.79,149.85 L445.61,148.59 L444.43,147.32 L443.24,146.06 L442.07,144.79 L440.89,143.53 L439.72,142.26 L438.55,141.00 L437.38,139.73 L436.23,138.47 L435.08,137.20 L433.94,135.94 L432.80,134.67 L431.68,133.41 L430.57,132.15 L429.46,130.88 L428.37,129.62 L427.29,128.35 L426.22,127.09 L425.17,125.82 L424.12,124.56 L423.09,123.29 L422.08,122.03 L421.07,120.76 L420.08,119.50 L419.10,118.23 L418.19,116.97 L417.29,115.70 L416.40,114.44 L415.52,113.17 L414.65,111.91 L413.79,110.64 L412.93,109.38 L412.09,108.12 L411.25,106.85 L410.42,105.59 L409.61,104.32 L408.79,103.06 L407.99,101.79 L407.20,100.53 L406.41,99.26 L405.63,98.00 L404.86,96.73 L404.09,95.47 L403.33,94.20 L402.58,92.94 L401.84,91.67 L401.11,90.41 L400.38,89.14 L399.66,87.88 L398.94,86.61 L398.24,85.35 L397.54,84.08 L396.85,82.82 L396.16,81.56 L395.48,80.29 L394.81,79.03 L394.14,77.76 L393.49,76.50 L392.83,75.23 L392.19,73.97 L391.55,72.70 L390.91,71.44 L390.28,70.17 L389.65,68.91 L389.03,67.64 L388.42,66.38 L387.81,65.11 L387.20,63.85 L386.60,62.58 L386.01,61.32 L385.42,60.05 L384.83,58.79 L384.25,57.53 L383.68,56.26 L383.11,55.00 L382.54,53.73 L381.98,52.47 L381.43,51.20 L380.88,49.94 L380.33,48.67 L379.79,47.41 L379.25,46.14 L378.72,44.88 L378.19,43.61 L377.67,42.35 L377.15,41.08 L376.63,39.82 L376.12,38.55 L375.61,37.29 L375.11,36.02 L374.61,34.76 L374.11,33.49 L373.62,32.23 L373.13,30.97 L372.65,29.70 L372.17,28.44 L371.69,27.17 L371.21,25.91 L370.74,24.64 L370.27,23.38 L369.81,22.11 L369.34,20.85 L368.89,19.58 L368.43,18.32 L367.98,17.05 L367.52,15.79 L367.08,14.52 L366.63,13.26 L366.19,11.99 L365.75,10.73 L365.31,9.46 L364.88,8.20" fill="none" stroke="#000" stroke-width="2" stroke-dasharray="6.5 3.5"/>
<path d="M270.20,225.60 L283.70,225.39 L292.13,225.19 L299.33,224.98 L305.82,224.77 L311.83,224.57 L317.48,224.36 L322.84,224.16 L327.97,223.95 L332.91,223.74 L337.67,223.54 L342.27,223.33 L346.75,223.12 L351.10,222.92 L355.33,222.71 L359.46,222.50 L363.50,222.30 L367.45,222.09 L371.31,221.88 L375.09,221.68 L378.80,221.47 L382.43,221.27 L386.00,221.06 L389.49,220.85 L392.93,220.65 L396.30,220.44 L399.61,220.23 L402.87,220.03 L406.07,219.82 L409.21,219.61 L412.30,219.41 L415.34,219.20 L418.33,219.00 L421.27,218.79 L424.16,218.58 L427.00,218.38 L429.79,218.17 L432.54,217.96 L435.25,217.76 L437.91,217.55 L440.53,217.34 L443.10,217.14 L445.63,216.93 L448.12,216.73 L450.57,216.52 L452.98,216.31 L455.35,216.11 L457.67,215.90 L459.96,215.69 L462.22,215.49 L464.43,215.28 L466.61,215.07 L468.75,214.87 L470.85,214.66 L472.92,214.45 L474.95,214.25 L476.95,214.04 L478.91,213.84 L480.84,213.63 L482.74,213.42 L484.60,213.22 L486.43,213.01 L488.22,212.80 L489.99,212.60 L491.72,212.39 L493.42,212.18 L495.09,211.98 L496.73,211.77 L498.34,211.57 L499.93,211.36 L501.48,211.15 L503.00,210.95 L504.50,210.74 L505.96,210.53 L507.40,210.33 L508.81,210.12 L510.20,209.91 L511.56,209.71 L512.89,209.50 L514.20,209.29 L521.66,208.03 L528.25,206.77 L534.05,205.50 L539.12,204.24 L543.55,202.97 L547.38,201.71 L550.69,200.44 L553.51,199.18 L555.91,197.91 L557.92,196.65 L559.58,195.38 L560.92,194.12 L561.98,192.85 L562.78,191.59 L563.34,190.32 L563.67,189.06 L563.81,187.79 L563.84,186.53 L563.72,185.26 L563.48,184.00 L563.10,182.74 L562.60,181.47 L561.98,180.21 L561.25,178.94 L560.42,177.68 L559.50,176.41 L558.48,175.15 L557.39,173.88 L556.22,172.62 L554.99,171.35 L553.70,170.09 L552.36,168.82 L550.96,167.56 L549.53,166.29 L548.05,165.03 L546.54,163.76 L545.00,162.50 L543.44,161.23 L541.85,159.97 L540.24,158.71 L538.62,157.44 L536.98,156.18 L535.33,154.91 L533.67,153.65 L532.00,152.38 L530.33,151.12 L528.65,149.85 L526.97,148.59 L525.30,147.32 L523.62,146.06 L521.95,144.79 L520.29,143.53 L518.63,142.26 L516.98,141.00 L515.33,139.73 L513.70,138.47 L512.08,137.20 L510.48,135.94 L508.88,134.67 L507.31,133.41 L505.74,132.15 L504.19,130.88 L502.66,129.62 L501.15,128.35 L499.65,127.09 L498.17,125.82 L496.70,124.56 L495.26,123.29 L493.83,122.03 L492.42,120.76 L491.02,119.50 L489.65,118.23 L488.37,116.97 L487.10,115.70 L485.84,114.44 L484.59,113.17 L483.36,111.91 L482.13,110.64 L480.91,109.38 L479.70,108.12 L478.50,106.85 L477.31,105.59 L476.12,104.32 L474.94,103.06 L473.77,101.79 L472.61,100.53 L471.46,99.26 L470.31,98.00 L469.16,96.73 L468.03,95.47 L466.90,94.20 L465.78,92.94 L464.66,91.67 L463.55,90.41 L462.45,89.14 L461.35,87.88 L460.27,86.61 L459.19,85.35 L458.11,84.08 L457.05,82.82 L455.99,81.56 L454.94,80.29 L453.90,79.03 L452.87,77.76 L451.85,76.50 L450.84,75.23 L449.83,73.97 L448.83,72.70 L447.84,71.44 L446.86,70.17 L445.88,68.91 L444.91,67.64 L443.95,66.38 L443.00,65.11 L442.06,63.85 L441.13,62.58 L440.20,61.32 L439.29,60.05 L438.38,58.79 L437.49,57.53 L436.60,56.26 L435.72,55.00 L434.85,53.73 L433.99,52.47 L433.14,51.20 L432.29,49.94 L431.46,48.67 L430.63,47.41 L429.82,46.14 L429.01,44.88 L428.21,43.61 L427.42,42.35 L426.63,41.08 L425.85,39.82 L425.09,38.55 L424.32,37.29 L423.57,36.02 L422.82,34.76 L422.08,33.49 L421.35,32.23 L420.62,30.97 L419.90,29.70 L419.19,28.44 L418.48,27.17 L417.77,25.91 L417.08,24.64 L416.38,23.38 L415.70,22.11 L415.02,20.85 L414.34,19.58 L413.67,18.32 L413.00,17.05 L412.34,15.79 L411.68,14.52 L411.03,13.26 L410.38,11.99 L409.73,10.73 L409.09,9.46 L408.46,8.20" fill="none" stroke="#000" stroke-width="2" stroke-dasharray="6.5 3.5"/>
</g>
<rect x="350.3" y="8.2" width="240.3" height="217.4" fill="none" stroke="#000" stroke-width="2"/>
<path d="M366.32,225.6 v-5 M366.32,8.2 v5 M382.34,225.6 v-5 M382.34,8.2 v5 M398.36,225.6 v-5 M398.36,8.2 v5 M414.38,225.6 v-5 M414.38,8.2 v5 M430.40,225.6 v-9 M430.40,8.2 v9 M446.42,225.6 v-5 M446.42,8.2 v5 M462.44,225.6 v-5 M462.44,8.2 v5 M478.46,225.6 v-5 M478.46,8.2 v5 M494.48,225.6 v-5 M494.48,8.2 v5 M510.50,225.6 v-9 M510.50,8.2 v9 M526.52,225.6 v-5 M526.52,8.2 v5 M542.54,225.6 v-5 M542.54,8.2 v5 M558.56,225.6 v-5 M558.56,8.2 v5 M574.58,225.6 v-5 M574.58,8.2 v5 M350.3,198.42 h5 M590.6,198.42 h-5 M350.3,171.25 h9 M590.6,171.25 h-9 M350.3,144.07 h5 M590.6,144.07 h-5 M350.3,116.90 h9 M590.6,116.90 h-9 M350.3,89.72 h5 M590.6,89.72 h-5 M350.3,62.55 h9 M590.6,62.55 h-9 M350.3,35.38 h5 M590.6,35.38 h-5" fill="none" stroke="#000" stroke-width="2"/>
<text transform="translate(350.30,250.8) scale(1.08,1)" text-anchor="middle" class="t">1</text>
<text transform="translate(430.40,250.8) scale(1.08,1)" text-anchor="middle" class="t">2</text>
<text transform="translate(510.50,250.8) scale(1.08,1)" text-anchor="middle" class="t">3</text>
<text transform="translate(590.60,250.8) scale(1.08,1)" text-anchor="middle" class="t">4</text>
<text transform="translate(339.30,225.60) rotate(-90) scale(1.08,1)" text-anchor="middle" class="t">0</text>
<text transform="translate(339.30,171.25) rotate(-90) scale(1.08,1)" text-anchor="middle" class="t">2</text>
<text transform="translate(339.30,116.90) rotate(-90) scale(1.08,1)" text-anchor="middle" class="t">4</text>
<text transform="translate(339.30,62.55) rotate(-90) scale(1.08,1)" text-anchor="middle" class="t">6</text>
<text transform="translate(339.30,8.20) rotate(-90) scale(1.08,1)" text-anchor="middle" class="t">8</text>
<text x="389.3 404.5 416.1 428.3 438.3 442.9 448.8 459.3 469.3 477.4" y="280.8" class="t">Density (g<tspan x="487.9" y="284.4" rotate="15" style="font-size:31px;stroke-width:0">/</tspan><tspan x="503.8 516.8 528.2 544.1" y="280.8" rotate="0">ccm)</tspan></text>
<text x="508.50" y="32.7" class="s">150 <tspan x="544.90" style="letter-spacing:0.25px">deg</tspan></text>
<text transform="translate(18.2,209) rotate(-90)" class="t"><tspan style="letter-spacing:0.6px;word-spacing:1.65px">Thermal </tspan><tspan style="letter-spacing:1.05px">parameter</tspan></text>
</svg>
</body></html>
